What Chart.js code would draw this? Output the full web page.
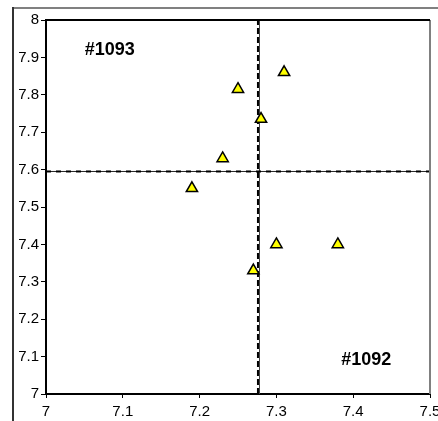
<!DOCTYPE html>
<html>
<head>
<meta charset="utf-8">
<script src="https://cdn.jsdelivr.net/npm/chart.js@4/dist/chart.umd.min.js"></script>
<style>
  html, body { margin: 0; padding: 0; background: #fff; }
  #wrap { width: 438px; height: 421px; }
</style>
</head>
<body>
<div id="wrap"><canvas id="mycanvas" width="438" height="421"></canvas></div>
<script>
// sample points (triangles)
var sampleX = [7.31, 7.25, 7.28, 7.23, 7.19, 7.30, 7.27, 7.38];
var sampleY = [7.86, 7.815, 7.735, 7.63, 7.55, 7.40, 7.33, 7.40];

// dashed reference lines
var refX = 7.276;
var refY = 7.595;

// axis ticks
var xTicks = [7, 7.1, 7.2, 7.3, 7.4, 7.5];
var yTicks = [7, 7.1, 7.2, 7.3, 7.4, 7.5, 7.6, 7.7, 7.8, 7.9, 8];

// quadrant labels
var labelText = ['#1093', '#1092'];
var labelX = [7.083, 7.417];
var labelY = [7.92, 7.09];

var points = [];
for (var i = 0; i < sampleX.length; i++) {
  points.push({ x: sampleX[i], y: sampleY[i] });
}

var fontFamily = '"Liberation Sans", Arial, sans-serif';

/* white background, outer frame, plot border and quadrant labels */
var framePlugin = {
  id: 'frame',
  beforeDraw: function(chart) {
    var c = chart.ctx;
    c.save();
    c.fillStyle = '#fff';
    c.fillRect(0, 0, chart.width, chart.height);
    c.restore();
  },
  afterDraw: function(chart) {
    var c = chart.ctx;
    var a = chart.chartArea;
    c.save();
    // outer frame
    c.strokeStyle = '#808080';
    c.lineWidth = 2;
    c.beginPath();
    c.moveTo(13, 8);
    c.lineTo(chart.width, 8);
    c.stroke();
    c.strokeStyle = '#333';
    c.beginPath();
    c.moveTo(13, 7);
    c.lineTo(13, chart.height);
    c.stroke();
    // plot area right edge (gray) and top (black)
    c.strokeStyle = '#808080';
    c.beginPath();
    c.moveTo(a.right, a.top);
    c.lineTo(a.right, a.bottom);
    c.stroke();
    c.strokeStyle = '#000';
    c.beginPath();
    c.moveTo(a.left, a.top);
    c.lineTo(a.right, a.top);
    c.stroke();
    // quadrant labels
    var xs = chart.scales.x, ys = chart.scales.y;
    c.fillStyle = '#000';
    c.font = 'bold 18px ' + fontFamily;
    c.textAlign = 'center';
    c.textBaseline = 'middle';
    for (var k = 0; k < labelText.length; k++) {
      c.fillText(labelText[k], xs.getPixelForValue(labelX[k]), ys.getPixelForValue(labelY[k]));
    }
    c.restore();
  }
};

var ctx = document.getElementById('mycanvas');
var chart = new Chart(ctx, {
  type: 'scatter',
  data: {
    datasets: [
      {
        label: 'samples',
        data: points,
        pointStyle: 'triangle',
        pointRadius: 6.5,
        pointHoverRadius: 6.5,
        backgroundColor: '#ffff00',
        borderColor: '#000',
        borderWidth: 1.5,
        order: 0
      },
      {
        label: 'vline dash',
        data: [{ x: refX, y: 7 }, { x: refX, y: 8 }],
        showLine: true,
        pointRadius: 0,
        borderColor: '#000',
        borderWidth: 2,
        borderDash: [6, 3],
        order: 1
      },
      {
        label: 'hline dash',
        data: [{ x: 7, y: refY }, { x: 7.5, y: refY }],
        showLine: true,
        pointRadius: 0,
        borderColor: '#000',
        borderWidth: 2,
        borderDash: [5, 5],
        order: 1
      },
      {
        label: 'vline',
        data: [{ x: refX + 0.002, y: 7 }, { x: refX + 0.002, y: 8 }],
        showLine: true,
        pointRadius: 0,
        borderColor: '#444',
        borderWidth: 1,
        order: 2
      },
      {
        label: 'hline',
        data: [{ x: 7, y: refY }, { x: 7.5, y: refY }],
        showLine: true,
        pointRadius: 0,
        borderColor: '#222',
        borderWidth: 1,
        order: 2
      }
    ]
  },
  options: {
    responsive: false,
    animation: false,
    layout: { padding: { top: 20, right: 8, left: 0, bottom: 0 } },
    plugins: {
      legend: { display: false },
      tooltip: { enabled: false }
    },
    scales: {
      x: {
        type: 'linear',
        min: 7,
        max: 7.5,
        afterBuildTicks: function(s) { s.ticks = xTicks.map(function(v) { return { value: v }; }); },
        afterFit: function(s) { s.height = 27; s.paddingLeft = 0; s.paddingRight = 0; },
        ticks: {
          color: '#000',
          font: { family: fontFamily, size: 15 },
          padding: 5,
          maxRotation: 0,
          callback: function(v) { return String(+v.toFixed(1)); }
        },
        grid: { drawOnChartArea: false, drawTicks: true, tickLength: 4, color: '#000' },
        border: { display: true, color: '#000', width: 2 }
      },
      y: {
        type: 'linear',
        min: 7,
        max: 8,
        afterBuildTicks: function(s) { s.ticks = yTicks.map(function(v) { return { value: v }; }); },
        afterFit: function(s) { s.width = 46; s.paddingTop = 0; s.paddingBottom = 0; },
        ticks: {
          color: '#000',
          font: { family: fontFamily, size: 15 },
          padding: 2,
          callback: function(v) { return String(+v.toFixed(1)); }
        },
        grid: { drawOnChartArea: false, drawTicks: true, tickLength: 5, color: '#000' },
        border: { display: true, color: '#000', width: 2 }
      }
    }
  },
  plugins: [framePlugin]
});
</script>
</body>
</html>
